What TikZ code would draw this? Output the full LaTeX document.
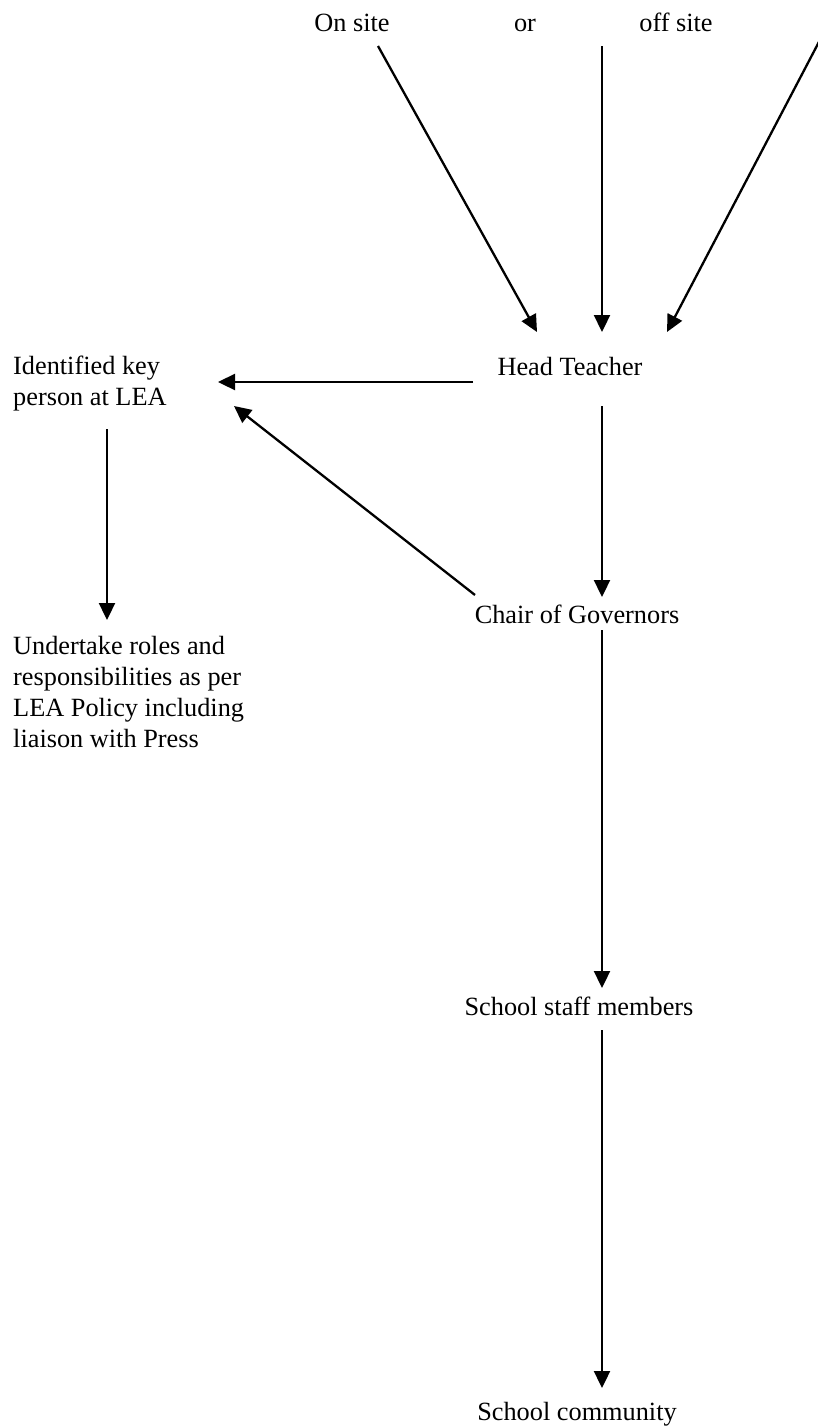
\documentclass[tikz,border=0pt]{standalone}
\usepackage{fontspec}
\setmainfont{Liberation Serif}
\usetikzlibrary{arrows.meta}
\tikzset{
  label/.style={inner sep=0pt, font=\fontsize{26.3}{30.7}\selectfont},
  flow/.style={line width=2.3pt, -{Triangle[length=17pt,width=16pt]}}
}
\begin{document}
\begin{tikzpicture}[x=1pt, y=-1pt]
  \useasboundingbox (0,0) rectangle (818,1427);

  % texts
  \node[label, anchor=base] (onsite) at (352,31) {On site};
  \node[label, anchor=base] (or) at (525,31) {or};
  \node[label, anchor=base] (offsite) at (676,31) {off site};
  \node[label, anchor=base] (head) at (570,375) {Head Teacher};
  \node[label, anchor=base west, align=left] (lea) at (13,405) {Identified key\\person at LEA};
  \node[label, anchor=base west, align=left] (task) at (13,747)
    {Undertake roles and\\responsibilities as per\\LEA Policy including\\liaison with Press};
  \node[label, anchor=base] (chair) at (577,623) {Chair of Governors};
  \node[label, anchor=base] (staff) at (579,1015) {School staff members};
  \node[label, anchor=base] (community) at (577,1420) {School community};

  % connector ends
  \coordinate (onsite-out) at (378,46);
  \coordinate (or-out) at (602,46);
  \coordinate (offsite-out) at (821,38);
  \coordinate (head-in-l) at (537,332);
  \coordinate (head-in-m) at (602,332);
  \coordinate (head-in-r) at (667,332);
  \coordinate (head-out-w) at (473,382);
  \coordinate (head-out-s) at (602,406);
  \coordinate (lea-in-e) at (218,382);
  \coordinate (lea-in-se) at (234,406);
  \coordinate (lea-out-s) at (107,429);
  \coordinate (task-in) at (107,620);
  \coordinate (chair-in) at (602,597);
  \coordinate (chair-out-nw) at (475,595);
  \coordinate (chair-out-s) at (602,630);
  \coordinate (staff-in) at (602,988);
  \coordinate (staff-out) at (602,1030);
  \coordinate (community-in) at (602,1388);

  % connectors
  \draw[flow] (onsite-out) -- (head-in-l);
  \draw[flow] (or-out) -- (head-in-m);
  \draw[flow] (offsite-out) -- (head-in-r);
  \draw[flow] (head-out-w) -- (lea-in-e);
  \draw[flow] (lea-out-s) -- (task-in);
  \draw[flow] (chair-out-nw) -- (lea-in-se);
  \draw[flow] (head-out-s) -- (chair-in);
  \draw[flow] (chair-out-s) -- (staff-in);
  \draw[flow] (staff-out) -- (community-in);
\end{tikzpicture}
\end{document}
